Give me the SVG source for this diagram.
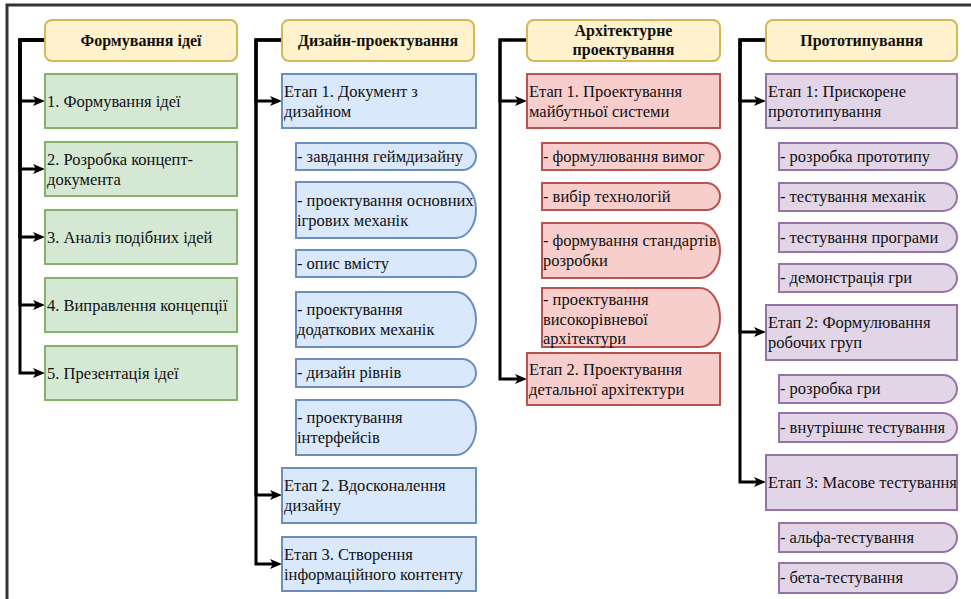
<svg xmlns="http://www.w3.org/2000/svg" width="971" height="599" viewBox="0 0 971 599">
<defs>
<marker id="arr" markerUnits="userSpaceOnUse" markerWidth="13" markerHeight="12" refX="6" refY="5" orient="auto" overflow="visible">
<path d="M0,0 L12,5 L0,10 L3,5 Z" fill="#000"/>
</marker>
</defs>
<style>
text{font-family:"Liberation Serif","Times New Roman",serif;font-size:16.5px;fill:#111}
.hd{font-weight:bold;text-anchor:middle;font-size:16px}
.h{fill:#fff2cc;stroke:#d6b656;stroke-width:2}
.g{fill:#d5e8d4;stroke:#82b366;stroke-width:2}
.b{fill:#dae8fc;stroke:#6c8ebf;stroke-width:2}
.r{fill:#f8cecc;stroke:#b85450;stroke-width:2}
.p{fill:#e1d5e7;stroke:#9673a6;stroke-width:2}
.c{fill:none;stroke:#000;stroke-width:3;marker-end:url(#arr)}
.frame{fill:none;stroke:#333;stroke-width:3}
</style>
<rect width="971" height="599" fill="#fff"/>
<path class="frame" d="M7,599 V5 H971"/>

<g id="connectors">
<path class="c" d="M45,40 H20 V101 H39"/>
<path class="c" d="M45,40 H20 V169 H39"/>
<path class="c" d="M45,40 H20 V237 H39"/>
<path class="c" d="M45,40 H20 V305 H39"/>
<path class="c" d="M45,40 H20 V373 H39"/>
<path class="c" d="M282,40 H256 V101 H276"/>
<path class="c" d="M282,40 H256 V495 H276"/>
<path class="c" d="M282,40 H256 V564 H276"/>
<path class="c" d="M527,40 H500 V101 H521"/>
<path class="c" d="M527,40 H500 V379 H521"/>
<path class="c" d="M766,40 H740 V101 H760"/>
<path class="c" d="M766,40 H740 V332 H760"/>
<path class="c" d="M766,40 H740 V482 H760"/>
</g>

<!-- Column 1 -->
<g id="h1"><rect class="h" x="45" y="20" width="192" height="41" rx="7"/><text class="hd" x="141" y="46">Формування ідеї</text></g>
<g id="g1"><rect class="g" x="45" y="74" width="192" height="54"/><text x="47" y="107">1. Формування ідеї</text></g>
<g id="g2"><rect class="g" x="45" y="142" width="192" height="54"/><text x="47" y="165">2. Розробка концепт-</text><text x="47" y="184.5">документа</text></g>
<g id="g3"><rect class="g" x="45" y="210" width="192" height="54"/><text x="47" y="243">3. Аналіз подібних ідей</text></g>
<g id="g4"><rect class="g" x="45" y="278" width="192" height="54"/><text x="47" y="311">4. Виправлення концепції</text></g>
<g id="g5"><rect class="g" x="45" y="346" width="192" height="54"/><text x="47" y="379">5. Презентація ідеї</text></g>

<!-- Column 2 -->
<g id="h2"><rect class="h" x="282" y="20" width="192" height="41" rx="7"/><text class="hd" x="378" y="46">Дизайн-проектування</text></g>
<g id="d_s1"><rect class="b" x="282" y="74" width="194" height="54"/><text x="284" y="97">Етап 1. Документ з</text><text x="284" y="116.5">дизайном</text></g>
<g id="d1"><path class="b" d="M296,143 H462.5 A13.5,13.5 0 0 1 462.5,170 H296 Z"/><text x="297" y="162">- завдання геймдизайну</text></g>
<g id="d2"><path class="b" d="M296,182 H456 A20,28 0 0 1 456,238 H296 Z"/><text x="297" y="206">- проектування основних</text><text x="297" y="225.5">ігрових механік</text></g>
<g id="d3"><path class="b" d="M296,250 H462.5 A13.5,13.5 0 0 1 462.5,277 H296 Z"/><text x="297" y="269">- опис вмісту</text></g>
<g id="d4"><path class="b" d="M296,292 H456 A20,27.5 0 0 1 456,347 H296 Z"/><text x="297" y="315">- проектування</text><text x="297" y="334.5">додаткових механік</text></g>
<g id="d5"><path class="b" d="M296,359 H462 A14,14 0 0 1 462,387 H296 Z"/><text x="297" y="378">- дизайн рівнів</text></g>
<g id="d6"><path class="b" d="M296,400 H456 A20,27.5 0 0 1 456,455 H296 Z"/><text x="297" y="423">- проектування</text><text x="297" y="442.5">інтерфейсів</text></g>
<g id="d_s2"><rect class="b" x="282" y="468" width="194" height="55"/><text x="284" y="491">Етап 2. Вдосконалення</text><text x="284" y="510.5">дизайну</text></g>
<g id="d_s3"><rect class="b" x="282" y="537" width="194" height="54"/><text x="284" y="560">Етап 3. Створення</text><text x="284" y="579.5">інформаційного контенту</text></g>

<!-- Column 3 -->
<g id="h3"><rect class="h" x="527" y="20" width="193" height="41" rx="7"/><text class="hd" x="623.5" y="36">Архітектурне</text><text class="hd" x="623.5" y="55">проектування</text></g>
<g id="a_s1"><rect class="r" x="527" y="74" width="193" height="54"/><text x="529" y="97">Етап 1. Проектування</text><text x="529" y="116.5">майбутньої системи</text></g>
<g id="a1"><path class="r" d="M542,143 H706.5 A13.5,13.5 0 0 1 706.5,170 H542 Z"/><text x="543" y="162">- формулювання вимог</text></g>
<g id="a2"><path class="r" d="M542,183 H706.5 A13.5,13.5 0 0 1 706.5,210 H542 Z"/><text x="543" y="202">- вибір технологій</text></g>
<g id="a3"><path class="r" d="M542,223 H700 A20,27.5 0 0 1 700,278 H542 Z"/><text x="543" y="246">- формування стандартів</text><text x="543" y="265.5">розробки</text></g>
<g id="a4"><path class="r" d="M542,288 H700 A20,29.5 0 0 1 700,347 H542 Z"/><text x="543" y="305">- проектування</text><text x="543" y="324.5">високорівневої</text><text x="543" y="344">архітектури</text></g>
<g id="a_s2"><rect class="r" x="527" y="353" width="193" height="52"/><text x="529" y="375">Етап 2. Проектування</text><text x="529" y="394.5">детальної архітектури</text></g>

<!-- Column 4 -->
<g id="h4"><rect class="h" x="766" y="20" width="191" height="41" rx="7"/><text class="hd" x="861.5" y="46">Прототипування</text></g>
<g id="p_s1"><rect class="p" x="766" y="74" width="191" height="54"/><text x="768" y="97">Етап 1: Прискорене</text><text x="768" y="116.5">прототипування</text></g>
<g id="p1"><path class="p" d="M779,143 H943.5 A13.5,13.5 0 0 1 943.5,170 H779 Z"/><text x="780" y="162">- розробка прототипу</text></g>
<g id="p2"><path class="p" d="M779,183 H943 A14,14 0 0 1 943,211 H779 Z"/><text x="780" y="202">- тестування механік</text></g>
<g id="p3"><path class="p" d="M779,223 H942.5 A14.5,14.5 0 0 1 942.5,252 H779 Z"/><text x="780" y="243">- тестування програми</text></g>
<g id="p4"><path class="p" d="M779,264 H943 A14,14 0 0 1 943,292 H779 Z"/><text x="780" y="283">- демонстрація гри</text></g>
<g id="p_s2"><rect class="p" x="766" y="305" width="191" height="55"/><text x="768" y="328">Етап 2: Формулювання</text><text x="768" y="347.5">робочих груп</text></g>
<g id="p5"><path class="p" d="M779,375 H943 A14,14 0 0 1 943,403 H779 Z"/><text x="780" y="394">- розробка гри</text></g>
<g id="p6"><path class="p" d="M779,413 H942.5 A14.5,14.5 0 0 1 942.5,442 H779 Z"/><text x="780" y="433">- внутрішнє тестування</text></g>
<g id="p_s3"><rect class="p" x="766" y="455" width="191" height="55"/><text x="768" y="488">Етап 3: Масове тестування</text></g>
<g id="p7"><path class="p" d="M779,523 H942.5 A14.5,14.5 0 0 1 942.5,552 H779 Z"/><text x="780" y="543">- альфа-тестування</text></g>
<g id="p8"><path class="p" d="M779,563 H942 A15,15 0 0 1 942,593 H779 Z"/><text x="780" y="583">- бета-тестування</text></g>
</svg>
